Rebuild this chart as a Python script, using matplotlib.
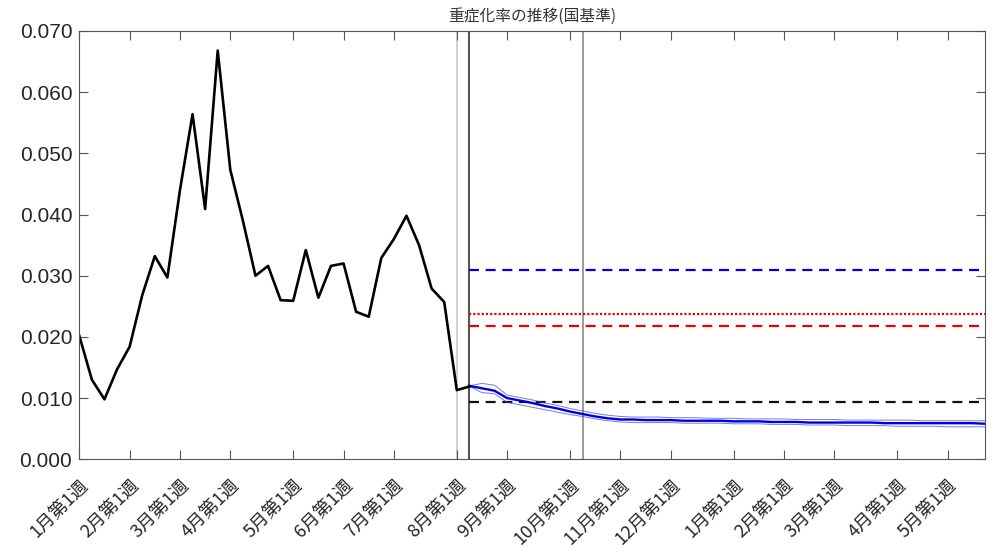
import matplotlib
matplotlib.use("Agg")
from matplotlib import pyplot as plt
from matplotlib import transforms

plt.rcParams['font.family'] = ['Noto Sans CJK JP', 'DejaVu Sans']

# week index 1 = 1月第1週
tick_weeks = [1, 5, 9, 13, 18, 22, 26, 31, 35, 40, 44, 48, 53, 57, 61, 66, 70]
tick_labels = ["1月第1週", "2月第1週", "3月第1週", "4月第1週", "5月第1週", "6月第1週",
               "7月第1週", "8月第1週", "9月第1週", "10月第1週", "11月第1週", "12月第1週",
               "1月第1週", "2月第1週", "3月第1週", "4月第1週", "5月第1週"]

# observed rate, weeks 1..32
obs_weeks = list(range(1, 33))
obs_rate = [0.0202, 0.0130, 0.0098, 0.0147, 0.0184, 0.0268, 0.0332, 0.0297,
            0.0440, 0.0564, 0.0409, 0.0668, 0.0473, 0.0390, 0.0300, 0.0316,
            0.0260, 0.0259, 0.0342, 0.0264, 0.0316, 0.0320, 0.0241, 0.0233,
            0.0329, 0.0360, 0.0398, 0.0350, 0.0279, 0.0257, 0.0113, 0.0119]

# forecast, weeks 32..73
fc_weeks = list(range(32, 74))
fc_mid = [0.0120, 0.0116, 0.0112, 0.0100, 0.0096, 0.0092, 0.0087, 0.0083, 0.0078, 0.0074,
          0.0070, 0.0067, 0.0065, 0.0065, 0.0064, 0.0064, 0.0064, 0.0063, 0.0063, 0.0063,
          0.0063, 0.0062, 0.0062, 0.0062, 0.0061, 0.0061, 0.0061, 0.0060, 0.0060, 0.0060,
          0.0060, 0.0060, 0.0060, 0.0059, 0.0059, 0.0059, 0.0059, 0.0059, 0.0059, 0.0059,
          0.0059, 0.0058]
fc_hi = [0.0120, 0.0124, 0.0121, 0.0105, 0.0101, 0.0097, 0.0092, 0.0088, 0.0083, 0.0079,
         0.0075, 0.0072, 0.0070, 0.0069, 0.0069, 0.0069, 0.0068, 0.0068, 0.0068, 0.0067,
         0.0067, 0.0067, 0.0066, 0.0066, 0.0066, 0.0066, 0.0065, 0.0065, 0.0065, 0.0065,
         0.0064, 0.0064, 0.0064, 0.0064, 0.0064, 0.0064, 0.0063, 0.0063, 0.0063, 0.0063,
         0.0063, 0.0063]
fc_lo = [0.0119, 0.0109, 0.0107, 0.0093, 0.0089, 0.0085, 0.0081, 0.0077, 0.0073, 0.0070,
         0.0066, 0.0063, 0.0061, 0.0060, 0.0060, 0.0060, 0.0060, 0.0059, 0.0059, 0.0059,
         0.0059, 0.0058, 0.0058, 0.0058, 0.0057, 0.0057, 0.0057, 0.0056, 0.0056, 0.0056,
         0.0055, 0.0055, 0.0055, 0.0055, 0.0054, 0.0054, 0.0054, 0.0054, 0.0053, 0.0053,
         0.0053, 0.0053]

# reference levels drawn from week 32 to the end
ref_start = 32
ref_end = 73
ref_blue = 0.0309
ref_red_dot = 0.02375
ref_red_dash = 0.02178
ref_black = 0.00931

# vertical markers
vlines = [31, 32, 41]

fig = plt.figure(figsize=(10, 5.48), dpi=100)
ax = fig.add_axes([0.0793, 0.1619, 0.906, 0.7816])

ax.axvline(vlines[0], color="#c8c8c8", lw=1.2, zorder=1)
ax.axvline(vlines[1], color="#555555", lw=1.5, zorder=1)
ax.axvline(vlines[2], color="#8a8a8a", lw=1.2, zorder=1)

ax.plot([ref_start, ref_end], [ref_blue, ref_blue], color="#0000ee", lw=1.6, dashes=(4.5, 3))
ax.plot([ref_start, ref_end], [ref_red_dot, ref_red_dot], color="#ee0000", lw=1.6, dashes=(1, 0.9))
ax.plot([ref_start, ref_end], [ref_red_dash, ref_red_dash], color="#ee0000", lw=1.6, dashes=(4.5, 3))
ax.plot([ref_start, ref_end], [ref_black, ref_black], color="#111111", lw=1.6, dashes=(4.5, 3))

ax.plot(fc_weeks, fc_hi, color="#3344ee", lw=0.7, alpha=0.7)
ax.plot(fc_weeks, fc_lo, color="#3344ee", lw=0.7, alpha=0.7)
ax.plot(fc_weeks, fc_mid, color="#0000dd", lw=1.7)

ax.plot(obs_weeks, obs_rate, color="black", lw=1.9)

ax.set_xlim(1, 73)
ax.set_ylim(0, 0.07)
ax.set_yticks([0, 0.01, 0.02, 0.03, 0.04, 0.05, 0.06, 0.07])
ax.set_yticklabels(["%.3f" % v for v in ax.get_yticks()], family="Liberation Sans",
                   fontsize=15, color="#262626")
ax.set_xticks(tick_weeks)
ax.set_xticklabels(tick_labels, rotation=45, ha="right", va="top",
                   rotation_mode="anchor", fontsize=13, color="#262626")
offset = transforms.ScaledTranslation(10 / 100, 0, fig.dpi_scale_trans)
for lab in ax.get_xticklabels():
    lab.set_transform(lab.get_transform() + offset)

ax.tick_params(direction="in", length=6.5, width=0.8, color="#555555",
               top=True, right=True)
ax.tick_params(axis="y", pad=5)
ax.tick_params(axis="x", pad=12)
for sp in ax.spines.values():
    sp.set_color("#555555")
    sp.set_linewidth(0.8)

ax.set_title("重症化率の推移(国基準)", fontsize=11.3, color="#333333", pad=7)

fig.savefig("out.png", dpi=100)
